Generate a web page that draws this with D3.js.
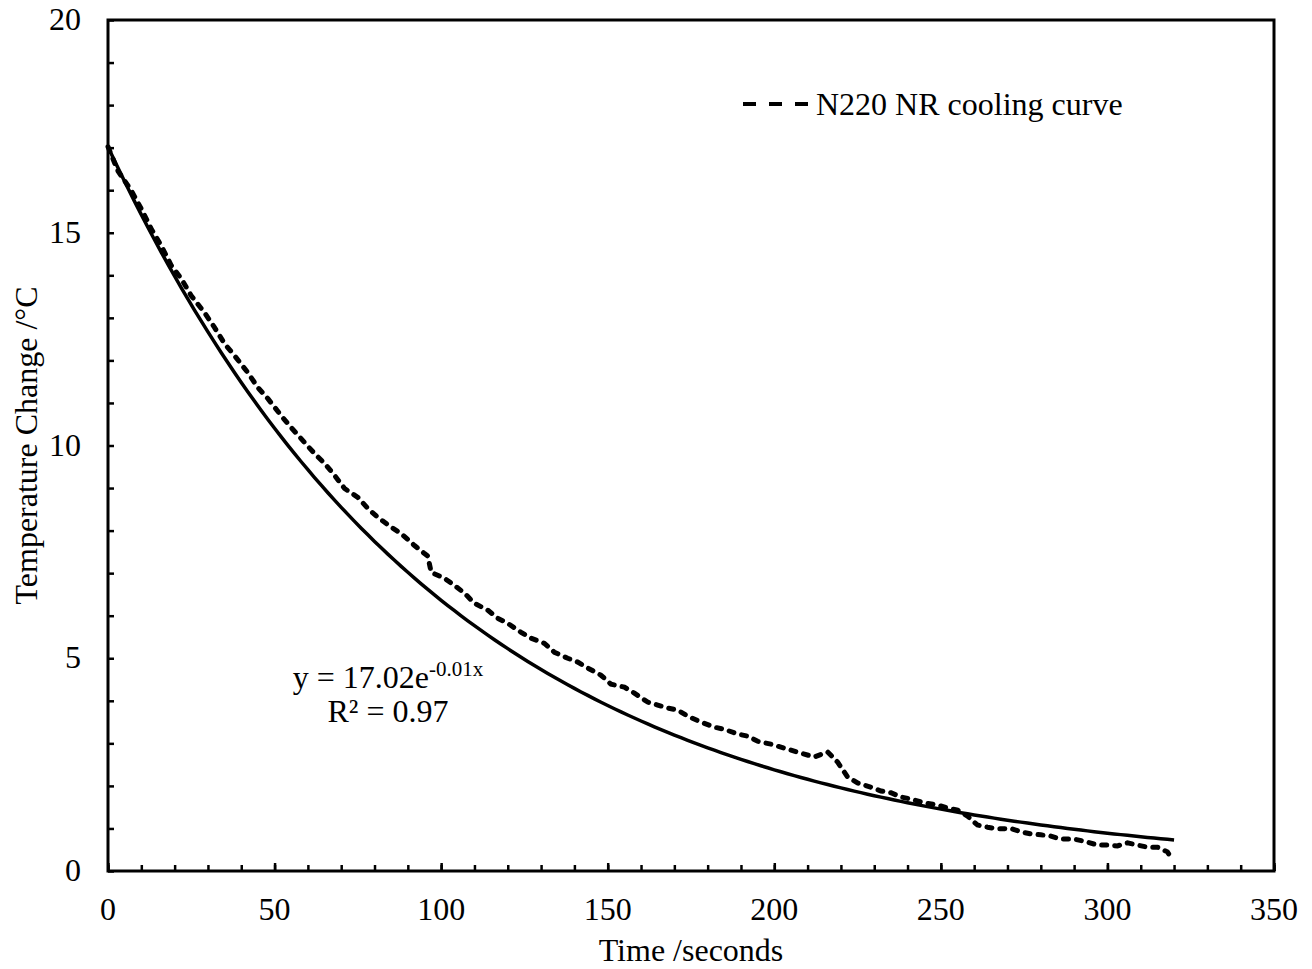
<!DOCTYPE html>
<html>
<head>
<meta charset="utf-8">
<script src="https://cdn.jsdelivr.net/npm/d3@7"></script>
<style>
  body { margin: 0; background: #fff; }
  text { font-family: "Liberation Serif", "Times New Roman", serif; fill: #000; }
</style>
</head>
<body>
<svg width="1312" height="969"></svg>
<script>
// cooling curve readings (seconds, temperature change in degC)
var times = [0, 3, 7, 10, 13, 16, 19, 22, 25, 29, 32, 35, 38, 42, 45, 48, 52, 55, 59, 62,
  65, 68, 71, 75, 78, 81, 85, 88, 92, 95, 96, 97, 101, 104, 107, 110, 114, 117, 120, 124,
  127, 131, 134, 138, 141, 144, 148, 151, 155, 158, 162, 165, 168, 171, 174, 178, 182, 185,
  189, 192, 195, 199, 202, 205, 208, 212, 215, 216, 219, 222, 225, 229, 232, 235, 238, 241,
  245, 249, 252, 255, 258, 261, 264, 267, 271, 274, 277, 280, 283, 286, 290, 293, 297, 300,
  303, 306, 309, 312, 315, 318, 319]
var temps = [17.02, 16.45, 15.99, 15.56, 15.09, 14.69, 14.23, 13.92, 13.52, 13.12, 12.77, 12.39,
  12.11, 11.71, 11.36, 11.10, 10.70, 10.42, 10.07, 9.81, 9.58, 9.30, 8.99, 8.78, 8.52, 8.31,
  8.08, 7.93, 7.65, 7.46, 7.40, 7.02, 6.88, 6.71, 6.53, 6.29, 6.13, 5.94, 5.82, 5.61, 5.47,
  5.35, 5.14, 5.00, 4.91, 4.77, 4.60, 4.39, 4.32, 4.18, 3.97, 3.90, 3.83, 3.78, 3.64, 3.50,
  3.38, 3.33, 3.22, 3.17, 3.05, 2.98, 2.91, 2.84, 2.77, 2.68, 2.77, 2.80, 2.56, 2.21, 2.07,
  1.97, 1.88, 1.84, 1.74, 1.69, 1.60, 1.55, 1.48, 1.43, 1.29, 1.08, 1.03, 0.99, 1.00, 0.92,
  0.87, 0.85, 0.82, 0.75, 0.75, 0.70, 0.61, 0.61, 0.59, 0.66, 0.61, 0.56, 0.56, 0.45, 0.33]

// exponential trendline y = a * e^(-k x)
var trendA = 17.02
var trendK = 0.00984
var trendEnd = 320

var xTicks = [0, 50, 100, 150, 200, 250, 300, 350]
var yTicks = [0, 5, 10, 15, 20]

var plot = {left: 108, top: 20, right: 1274, bottom: 871}

var svg = d3.select("svg")

var xscale = d3.scaleLinear().domain([0, 350]).range([plot.left, plot.right])
var yscale = d3.scaleLinear().domain([0, 20]).range([plot.bottom, plot.top])

// minor and major tick marks, pointing inward
var xMinor = d3.range(0, 351, 10)
var yMinor = d3.range(0, 21, 1)

svg.append("g")
  .attr("transform", "translate(0," + plot.bottom + ")")
  .call(d3.axisBottom(xscale).tickValues(xMinor).tickSize(-6).tickFormat(""))
svg.append("g")
  .attr("transform", "translate(0," + plot.bottom + ")")
  .call(d3.axisBottom(xscale).tickValues(xTicks).tickSize(-8).tickFormat(""))
svg.append("g")
  .attr("transform", "translate(" + plot.left + ",0)")
  .call(d3.axisLeft(yscale).tickValues(yMinor).tickSize(-6).tickFormat(""))

svg.selectAll(".tick line").attr("stroke", "#000").attr("stroke-width", 2.5)
svg.selectAll(".domain").remove()

// tick labels
svg.selectAll(".xlab")
  .data(xTicks)
  .enter()
  .append("text")
  .attr("x", function(d) {return xscale(d)})
  .attr("y", 920)
  .attr("text-anchor", "middle")
  .attr("font-size", 32)
  .text(function(d) {return d})

svg.selectAll(".ylab")
  .data(yTicks)
  .enter()
  .append("text")
  .attr("x", 81)
  .attr("y", function(d) {return yscale(d) + 10})
  .attr("text-anchor", "end")
  .attr("font-size", 32)
  .text(function(d) {return d})

// frame
svg.append("rect")
  .attr("x", plot.left)
  .attr("y", plot.top)
  .attr("width", plot.right - plot.left)
  .attr("height", plot.bottom - plot.top)
  .attr("fill", "none")
  .attr("stroke", "#000")
  .attr("stroke-width", 3)

// trendline
var trendPts = d3.range(0, trendEnd + 1, 2).map(function(t)
{
  return {x: t, y: trendA * Math.exp(-trendK * t)}
})

var line = d3.line()
  .x(function(p) {return xscale(p.x)})
  .y(function(p) {return yscale(p.y)})

svg.append("path")
  .datum(trendPts)
  .attr("d", line)
  .attr("fill", "none")
  .attr("stroke", "#000")
  .attr("stroke-width", 3.5)

// measured cooling curve
var points = times.map(function(t, i)
{
  return {x: t, y: temps[i]}
})

svg.append("path")
  .datum(points)
  .attr("d", line)
  .attr("fill", "none")
  .attr("stroke", "#000")
  .attr("stroke-width", 5)
  .attr("stroke-linecap", "round")
  .attr("stroke-dasharray", "5,8")

// legend
svg.append("line")
  .attr("x1", 743).attr("x2", 808)
  .attr("y1", 104).attr("y2", 104)
  .attr("stroke", "#000")
  .attr("stroke-width", 4)
  .attr("stroke-dasharray", "13,13")
svg.append("text")
  .attr("x", 816)
  .attr("y", 115)
  .attr("font-size", 32)
  .text("N220 NR cooling curve")

// trendline equation
var eq = svg.append("text")
  .attr("x", 388)
  .attr("y", 688)
  .attr("text-anchor", "middle")
  .attr("font-size", 32)
eq.append("tspan").text("y = 17.02e")
eq.append("tspan").attr("font-size", 21).attr("dy", -12).text("-0.01x")

svg.append("text")
  .attr("x", 388)
  .attr("y", 722)
  .attr("text-anchor", "middle")
  .attr("font-size", 32)
  .text("R² = 0.97")

// axis titles
svg.append("text")
  .attr("x", 691)
  .attr("y", 961)
  .attr("text-anchor", "middle")
  .attr("font-size", 32)
  .text("Time /seconds")

svg.append("text")
  .attr("transform", "translate(37," + ((plot.top + plot.bottom) / 2) + ") rotate(-90)")
  .attr("text-anchor", "middle")
  .attr("font-size", 32)
  .text("Temperature Change /°C")
</script>
</body>
</html>
